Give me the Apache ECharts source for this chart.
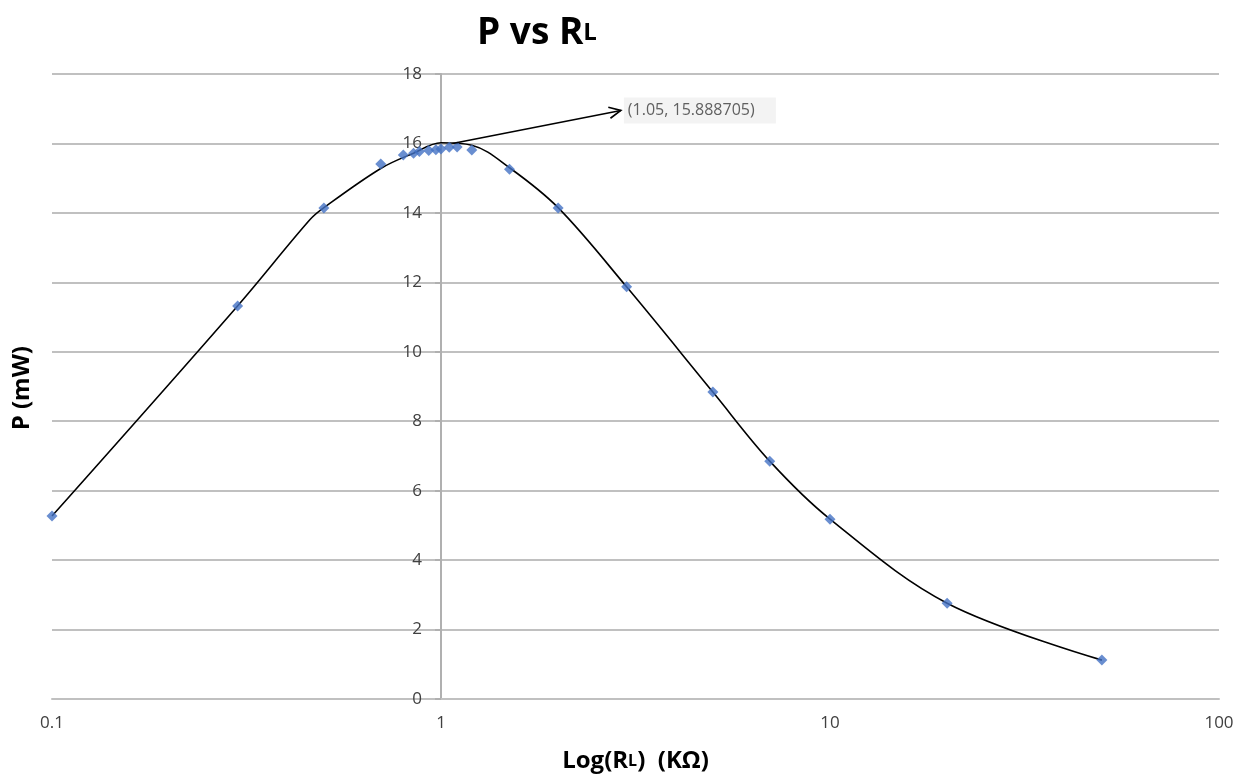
<!DOCTYPE html>
<html>
<head>
<meta charset="utf-8">
<script src="https://cdn.jsdelivr.net/npm/echarts@6/dist/echarts.min.js"></script>
<style>
  html, body { margin: 0; padding: 0; background: #fff; }
  #main { width: 1249px; height: 783px; }
</style>
</head>
<body>
<div id="main"></div>
<script>
// measured points (R_L in kOhm, P in mW)
const rl = [0.1, 0.3, 0.5, 0.7, 0.8, 0.85, 0.88, 0.93, 0.97, 1.0, 1.05, 1.1, 1.2, 1.5, 2, 3, 5, 7, 10, 20, 50];
const power = [5.27, 11.32, 14.14, 15.41, 15.67, 15.72, 15.77, 15.8, 15.82, 15.84, 15.889, 15.9, 15.81, 15.26, 14.14, 11.87, 8.84, 6.85, 5.18, 2.76, 1.12];

// smoothed curve
const curveX = [0.1, 0.3, 0.46, 0.5, 0.7, 0.85, 1.0, 1.2, 1.5, 2, 3, 5, 7, 10, 20, 50];
const curveY = [5.27, 11.32, 13.8, 14.15, 15.28, 15.72, 16.02, 15.95, 15.3, 14.15, 11.87, 8.84, 6.85, 5.18, 2.76, 1.12];

const yTicks = [0, 18, 2]; // min, max, step

// annotation arrow: from peak to label
const annotFrom = [1.07, 16.0];
const annotTo = [2.9, 16.95];
const annotText = '(1.05, 15.888705)';

const chart = echarts.init(document.getElementById('main'));
const gray = '#404040';

const option = {
  animation: false,
  title: {
    text: 'P vs R{s|L}',
    left: 472,
    top: 10,
    textStyle: {
      fontFamily: 'Open Sans',
      fontWeight: 'bold',
      fontSize: 37,
      color: '#000',
      rich: {
        s: { fontFamily: 'Open Sans', fontWeight: 'bold', fontSize: 24, color: '#000' }
      }
    }
  },
  grid: { left: 52, right: 30, top: 74, bottom: 84 },
  xAxis: {
    type: 'log',
    logBase: 10,
    min: 0.1,
    max: 100,
    name: 'Log(R{s|L})  (KΩ)',
    nameLocation: 'middle',
    nameGap: 50,
    nameTextStyle: {
      fontFamily: 'Open Sans',
      fontWeight: 'bold',
      fontSize: 24,
      color: '#000',
      rich: {
        s: { fontFamily: 'Open Sans', fontWeight: 'bold', fontSize: 16, color: '#000' }
      }
    },
    axisLine: { lineStyle: { color: '#c0c0c0', width: 2 } },
    axisTick: { show: false },
    splitLine: { show: false },
    minorTick: { show: false },
    axisLabel: {
      fontFamily: 'Open Sans',
      fontSize: 17,
      color: gray,
      margin: 16,
      formatter: function (v) { return String(v); }
    }
  },
  yAxis: {
    type: 'value',
    min: yTicks[0],
    max: yTicks[1],
    interval: yTicks[2],
    offset: -389,
    axisLine: { show: true, lineStyle: { color: '#b0b0b0', width: 2 } },
    axisTick: { show: true, length: 6, lineStyle: { color: '#b0b0b0', width: 2 } },
    splitLine: { lineStyle: { color: '#c0c0c0', width: 2 } },
    axisLabel: {
      fontFamily: 'Open Sans',
      fontSize: 17,
      color: gray,
      margin: 19
    }
  },
  series: [
    {
      name: 'curve',
      type: 'line',
      smooth: 0.35,
      symbol: 'none',
      lineStyle: { color: '#000', width: 1.6 },
      data: curveX.map((x, i) => [x, curveY[i]]),
      z: 2
    },
    {
      name: 'P',
      type: 'scatter',
      symbol: 'diamond',
      symbolSize: 11,
      itemStyle: { color: '#4472c4' },
      data: rl.map((x, i) => [x, power[i]]),
      z: 3
    }
  ],
  graphic: [
    {
      type: 'text',
      left: 10,
      top: 346,
      rotation: Math.PI / 2,
      style: {
        text: 'P (mW)',
        fontFamily: 'Open Sans',
        fontWeight: 'bold',
        fontSize: 24,
        fill: '#000'
      }
    }
  ]
};

chart.setOption(option);

// annotation arrow + label placed through the axes
const p0 = chart.convertToPixel({ xAxisIndex: 0, yAxisIndex: 0 }, annotFrom);
const p1 = chart.convertToPixel({ xAxisIndex: 0, yAxisIndex: 0 }, annotTo);
const ang = Math.atan2(p1[1] - p0[1], p1[0] - p0[0]);
const hl = 13, ha = 0.45;
chart.setOption({
  graphic: [
    option.graphic[0],
    {
      type: 'line',
      shape: { x1: p0[0], y1: p0[1], x2: p1[0], y2: p1[1] },
      style: { stroke: '#000', lineWidth: 1.6 },
      z: 10
    },
    {
      type: 'polyline',
      shape: {
        points: [
          [p1[0] - hl * Math.cos(ang - ha), p1[1] - hl * Math.sin(ang - ha)],
          [p1[0], p1[1]],
          [p1[0] - hl * Math.cos(ang + ha), p1[1] - hl * Math.sin(ang + ha)]
        ]
      },
      style: { stroke: '#000', lineWidth: 1.6, fill: null },
      z: 10
    },
    {
      type: 'rect',
      shape: { x: p1[0] + 3, y: p1[1] - 13, width: 152, height: 26 },
      style: { fill: '#f3f3f3' },
      z: 9
    },
    {
      type: 'text',
      x: p1[0] + 7,
      y: p1[1],
      style: {
        text: annotText,
        fontFamily: 'Open Sans',
        fontSize: 16,
        fill: '#606060',
        verticalAlign: 'middle'
      },
      z: 10
    }
  ]
});
</script>
</body>
</html>
